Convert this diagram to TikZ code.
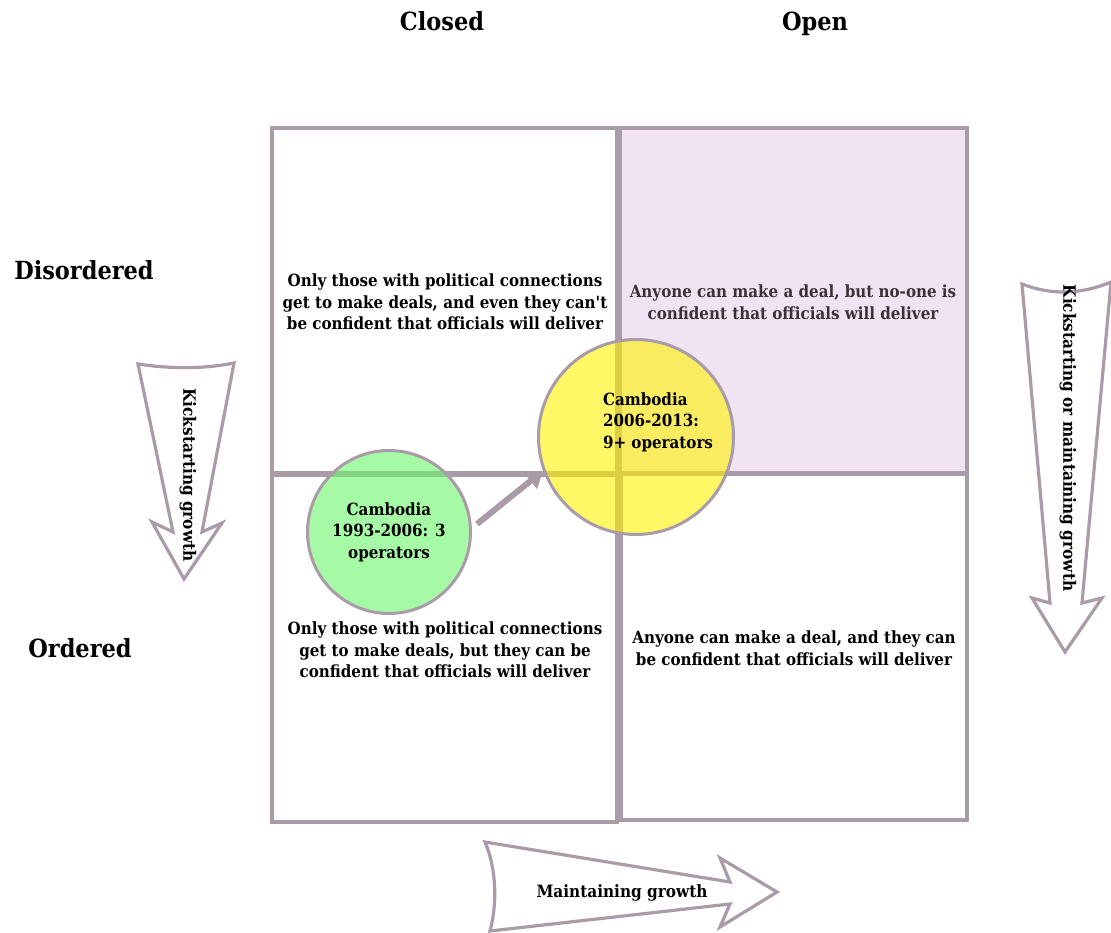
\documentclass[tikz,border=0pt]{standalone}
\usepackage{fontspec}
\setmainfont{DejaVu Serif Condensed}[BoldFont={DejaVu Serif Condensed Bold}, Ligatures=TeXOff]
\usetikzlibrary{arrows.meta}
\definecolor{frame}{HTML}{A99CA8}
\definecolor{lilac}{HTML}{F0E4F2}
\definecolor{greenfill}{HTML}{6BF76B}
\definecolor{darktext}{HTML}{3A3236}
\tikzset{
  cell/.style={draw=frame, line width=3.6pt},
  celltext/.style={font=\bfseries\fontsize{16.8}{21.5}\selectfont, align=center},
  heading/.style={font=\bfseries\fontsize{25}{28}\selectfont, anchor=base},
  bigarrow/.style={draw=frame, line width=3.2pt, fill=white, line join=miter},
  arrowtext/.style={font=\bfseries\fontsize{17}{20}\selectfont},
  era/.style={circle, draw=frame, line width=3pt, fill opacity=0.6, text opacity=1,
    minimum size=#1, inner sep=0pt},
  eratext/.style={font=\bfseries\fontsize{16.8}{21.5}\selectfont},
}
\begin{document}
\begin{tikzpicture}[x=1pt, y=-1pt]
\useasboundingbox (0,0) rectangle (1111,933);

% column and row headings
\node[heading] (closed) at (442,31) {Closed};
\node[heading] (open) at (815,31) {Open};
\node[heading] (disordered) at (84,280) {Disordered};
\node[heading] (ordered) at (80,657) {Ordered};

% the four quadrants
\draw[cell, fill=lilac] (620,128) rectangle (967,473);
\draw[cell] (272,128) rectangle (617,473);
\draw[cell] (272,475) rectangle (617,822);
\draw[cell] (621,474) rectangle (967,820);

\node[celltext] (tl) at (445,302) {Only those with political connections\\get to make deals, and even they can't\\be confident that officials will deliver};
\node[celltext, text=darktext] (tr) at (793,302) {Anyone can make a deal, but no-one is\\confident that officials will deliver};
\node[celltext] (bl) at (445,650) {Only those with political connections\\get to make deals, but they can be\\confident that officials will deliver};
\node[celltext] (br) at (794,648) {Anyone can make a deal, and they can\\be confident that officials will deliver};

% left block arrow
\draw[bigarrow] (138,364) .. controls (170,369) and (205,369) .. (234,363)
  -- (202,532) -- (222,523) -- (184,579) -- (152,522) -- (173,532) -- cycle;
\node[arrowtext, rotate=-90] (kick) at (188,475) {Kickstarting growth};

% right block arrow
\draw[bigarrow] (1022,284) .. controls (1050,295) and (1080,295) .. (1111,282)
  -- (1082,603) -- (1102,598) -- (1065,652) -- (1032,598) -- (1050,603) -- cycle;
\node[arrowtext, rotate=-90] (kickmaint) at (1068,438) {Kickstarting or maintaining growth};

% bottom block arrow
\draw[bigarrow] (485,842) .. controls (497,870) and (497,905) .. (490,931)
  -- (730,904) -- (720,927) -- (777,892) -- (720,858) -- (730,882) -- cycle;
\node[arrowtext] (maint) at (622,893) {Maintaining growth};

% eras in Cambodia
\node[era=163pt, fill=greenfill] (early) at (389,532) {};
\node[era=195pt, fill=yellow] (late) at (636,437) {};
\node[eratext, align=center] (earlytxt) at (early.center) {Cambodia\\1993-2006: 3\\operators};
\node[eratext, align=left] (latetxt) at (658,422) {Cambodia\\2006-2013:\\9+ operators};

\coordinate (astart) at (477,524);
\draw[frame, line width=6pt, -{Triangle[length=16pt, width=20pt]}] (astart) -- (late.200);
\end{tikzpicture}
\end{document}
